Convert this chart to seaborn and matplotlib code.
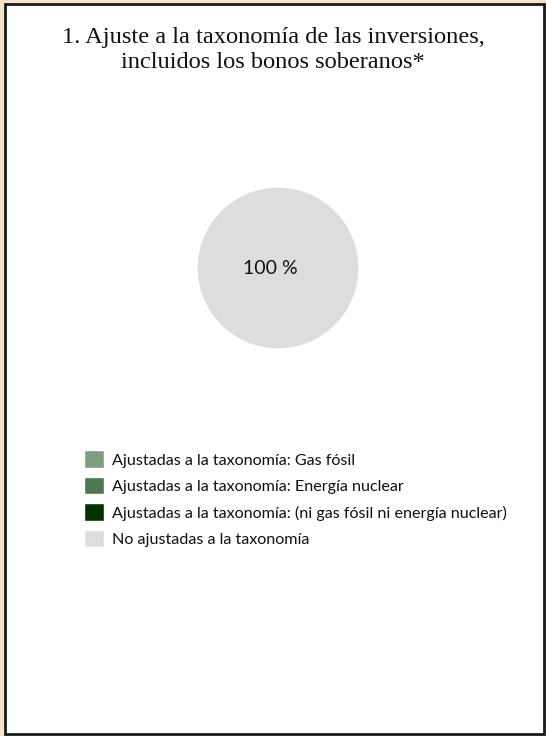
import seaborn as sns
import matplotlib.pyplot as plt
from matplotlib.patches import Rectangle

# datos del gráfico
categorias = ['Ajustadas a la taxonomía: Gas fósil',
              'Ajustadas a la taxonomía: Energía nuclear',
              'Ajustadas a la taxonomía: (ni gas fósil ni energía nuclear)',
              'No ajustadas a la taxonomía']
valores = [0, 0, 0, 100]
colores = ['#7E9E80', '#4C7752', '#003300', '#DDDDDD']
titulo = '1. Ajuste a la taxonomía de las inversiones,\nincluidos los bonos soberanos*'

sns.set_theme(style='white')
plt.rcParams['font.family'] = ['Lato', 'DejaVu Sans']

W, H = 546, 736
fig = plt.figure(figsize=(W / 100, H / 100), dpi=100, facecolor='#F9E4CB')

# marco
fig.patches.append(Rectangle((4.5 / W, 2 / H), 539 / W, 730 / H, transform=fig.transFigure,
                             facecolor='white', edgecolor='#1a1a1a', linewidth=2, zorder=-5))

fig.text(273 / W, 1 - 50 / H, titulo, ha='center', va='center', fontsize=17.6,
         family='Liberation Serif', linespacing=1.25, color='#111111')

# tarta
r = 81
cx, cy = 278, 268
ax = fig.add_axes([(cx - r) / W, 1 - (cy + r) / H, 2 * r / W, 2 * r / H])
ax.set_zorder(2)
wedges, textos, pct = ax.pie(valores, colors=colores, radius=1,
                             autopct=lambda p: f'{p:.0f} %' if p > 0 else '',
                             pctdistance=0.1, textprops={'fontsize': 14, 'color': '#111111'})
ax.set_xlim(-1, 1)
ax.set_ylim(-1, 1)
ax.set_axis_off()

# leyenda
fig.legend(wedges, categorias, loc='upper left', bbox_to_anchor=(69 / W, 1 - 436 / H),
           frameon=False, fontsize=11.6, handlelength=1.3, handleheight=1.3,
           handletextpad=0.5, labelspacing=0.55, labelcolor='#111111')

fig.savefig('out.png', dpi=100, facecolor=fig.get_facecolor())
